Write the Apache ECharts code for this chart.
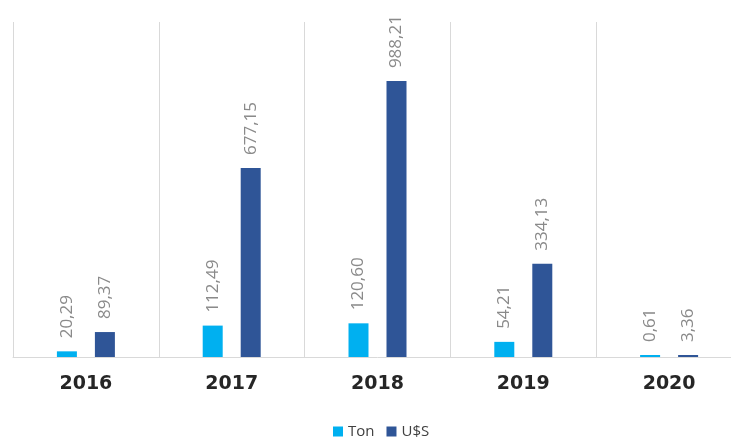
<!DOCTYPE html>
<html><head><meta charset="utf-8">
<script src="https://cdn.jsdelivr.net/npm/echarts@6/dist/echarts.min.js"></script>
<style>html,body{margin:0;padding:0;background:#fff;overflow:hidden}#c{width:745px;height:444px}</style>
</head><body><div id="c"></div>
<script>
var categories = ['2016','2017','2018','2019','2020'];
var tonValues = [20.29, 112.49, 120.60, 54.21, 0.61];
var usdValues = [89.37, 677.15, 988.21, 334.13, 3.36];
var seriesNames = ['Ton', 'U$S'];

var chart = echarts.init(document.getElementById('c'), null, {renderer:'canvas'});
function fmt(p){ return p.value.toFixed(2).replace('.', ','); }
var lbl = {show:true, position:'top', rotate:90, align:'left', verticalAlign:'middle', distance:13,
  color:'#8a8a8a', fontSize:17, fontFamily:'"Open Sans", "DejaVu Sans", sans-serif', formatter:fmt};
chart.setOption({
  animation:false,
  legend:{bottom:0, left:328, itemWidth:10, itemHeight:10, itemGap:12, icon:'rect',
    textStyle:{color:'#404040', fontSize:15, fontFamily:'"Open Sans", "DejaVu Sans", sans-serif'}, data:seriesNames},
  grid:{left:13, top:22, width:729, height:335},
  xAxis:{type:'category', data:categories,
    axisLine:{lineStyle:{color:'#d9d9d9'}}, axisTick:{show:false},
    splitLine:{show:true, interval:0, lineStyle:{color:'#d9d9d9'}},
    axisLabel:{margin:18, color:'#262626', fontSize:19, fontWeight:'bold', fontFamily:'"DejaVu Sans", sans-serif'}},
  yAxis:{type:'value', min:0, max:1200, show:false, splitLine:{show:false}},
  series:[
    {name:seriesNames[0], type:'bar', data:tonValues, barWidth:20, barGap:'90%', barMinHeight:2, itemStyle:{color:'#00b0f0'}, label:lbl},
    {name:seriesNames[1], type:'bar', data:usdValues, barWidth:20, barMinHeight:2, itemStyle:{color:'#2f5597'}, label:lbl}
  ]
});
</script></body></html>
